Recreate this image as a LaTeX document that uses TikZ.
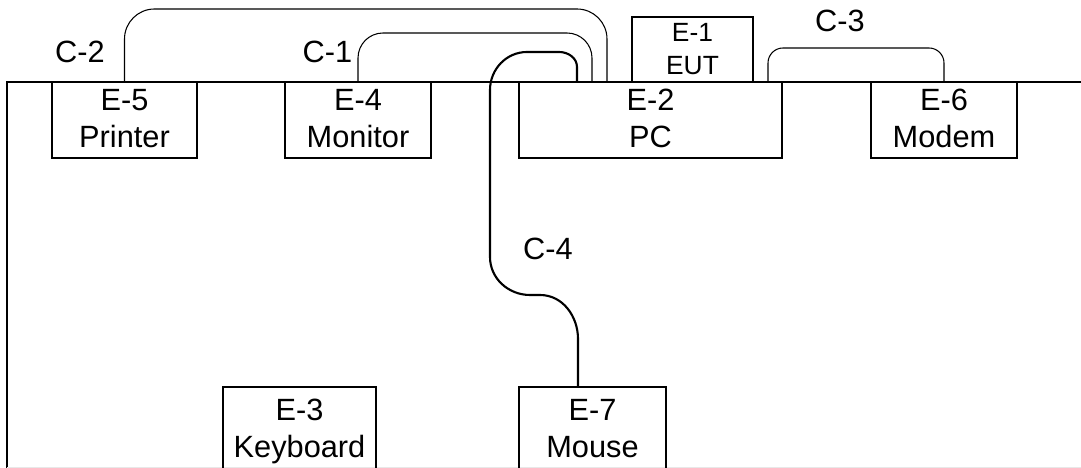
\documentclass[tikz,border=0pt]{standalone}
\usepackage{fontspec}
\setmainfont{Liberation Sans}
\usetikzlibrary{
  positioning,
  calc
}
\definecolor{edgeGray}{HTML}{E8E8E8}
\newcommand{\lnstrut}{\rule[-5.5pt]{0pt}{21pt}}
\newcommand{\smstrut}{\rule[-4.3pt]{0pt}{18.6pt}}
\tikzset{
  equip/.style      = {rectangle, draw=black, line width=1.1pt, outer sep=0pt,
                       inner sep=0pt, minimum width=2.92cm, minimum height=1.52cm,
                       align=center, font=\fontsize{17.5}{21}\selectfont},
  eut/.style        = {equip, minimum width=2.42cm, minimum height=1.24cm,
                       font=\fontsize{15}{18.6}\selectfont},
  tableEdge/.style  = {line width=1.1pt, draw=black},
  cable/.style      = {line width=0.6pt, draw=black},
  mouseCable/.style = {line width=1.2pt, draw=black},
  cableLabel/.style = {anchor=base, font=\fontsize{17.5}{21}\selectfont}
}

\begin{document}
\begin{tikzpicture}
\useasboundingbox (0,0) rectangle (21.62,9.36);

% table edge
\draw[tableEdge] (0.14,0) -- (0.14,7.72) -- (21.62,7.72);
\draw[edgeGray, line width=0.5pt] (0.14,0.02) -- (21.62,0.02);

% equipment along the table edge
\node[equip, minimum width=2.90cm, anchor=north] (e5) at (2.49,7.72) {\lnstrut E-5\\\lnstrut Printer};
\node[equip, right=1.76cm of e5] (e4) {\lnstrut E-4\\\lnstrut Monitor};
\node[equip, minimum width=5.26cm, right=1.76cm of e4] (e2) {\lnstrut E-2\\\lnstrut PC};
\node[equip, right=1.78cm of e2] (e6) {\lnstrut E-6\\\lnstrut Modem};
\node[eut, above=0pt of e2, xshift=0.84cm] (e1) {\smstrut E-1\\\smstrut EUT};

% equipment in front
\coordinate (floor) at (0,1.62);
\node[equip, minimum width=2.94cm, minimum height=1.72cm, anchor=north west] (e7) at (e2.west |- floor) {\lnstrut E-7\\\lnstrut Mouse};
\node[equip, minimum width=3.06cm, minimum height=1.72cm, left=2.86cm of e7] (e3) {\lnstrut E-3\\\lnstrut Keyboard};

% cable ends on the PC
\coordinate (c1end) at ($(e2.north west)+(1.46,0)$);
\coordinate (c2end) at ($(e2.north west)+(1.76,0)$);
\coordinate (c3start) at ($(e2.north east)+(-0.28,0)$);
\coordinate (c4start) at ($(e2.north west)+(1.16,0)$);
\coordinate (c4end) at ($(e7.north west)+(1.18,0)$);

% cables
\draw[cable, rounded corners=0.6cm] (e5.north) -- ++(0,1.46) -| (c2end);
\draw[cable, rounded corners=0.5cm] (e4.north) -- ++(0,0.98) -| (c1end);
\draw[cable, rounded corners=0.3cm] (c3start) -- ++(0,0.68) -| (e6.north);
\draw[mouseCable] (c4start) -- ++(0,0.30) to[out=90,in=0] ++(-0.36,0.30)
  -- ++(-0.64,0) to[out=180,in=90] (9.80,7.56) -- (9.80,4.22)
  to[out=-90,in=180] (10.60,3.46) -- (10.80,3.46)
  to[out=0,in=90] (11.56,2.58) -- (c4end);

% cable labels
\node[cableLabel] (c2) at (1.60,8.10) {C-2};
\node[cableLabel] (c1) at (6.55,8.10) {C-1};
\node[cableLabel] (c3) at (16.80,8.72) {C-3};
\node[cableLabel] (c4) at (10.96,4.16) {C-4};
\end{tikzpicture}
\end{document}
